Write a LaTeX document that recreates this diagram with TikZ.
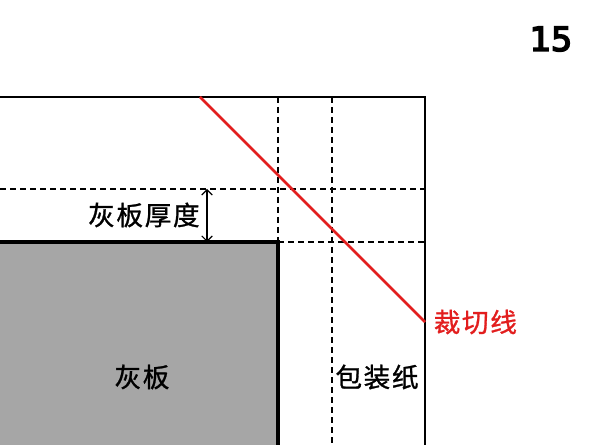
\documentclass[tikz,border=0pt]{standalone}
\usepackage{fontspec}
\setmainfont{Noto Sans CJK SC}[LetterSpace=6, FakeBold=1]
\newfontfamily\numfont{DejaVu Sans}[FakeBold=5]
\usetikzlibrary{arrows.meta,positioning}
\definecolor{cutred}{RGB}{226,30,30}
\definecolor{boardgray}{RGB}{166,166,166}

\begin{document}
\begin{tikzpicture}[
x=0.75pt, y=-0.75pt,
every node/.style={font=\fontsize{20}{24}\selectfont},
paper/.style={line width=1.6pt},
guide/.style={dashed, dash pattern=on 4.5pt off 3pt, line width=1.1pt},
board/.style={line width=3.2pt},
cutline/.style={cutred, line width=1.9pt},
dim/.style={{Straight Barb[length=4pt]}-{Straight Barb[length=4pt]}, line width=0.8pt}
]
\useasboundingbox (0,0) rectangle (593,445);

% corner points
\coordinate (tl) at (0,97);
\coordinate (tr) at (425,97);
\coordinate (br) at (425,445);
\coordinate (bt) at (0,242);
\coordinate (bc) at (278,242);
\coordinate (bb) at (278,445);

% grey board
\fill[boardgray] (bt) rectangle (bb);
\draw[board] (bt) -- (bc) -- (bb);

% wrapping paper outline
\draw[paper] (tl) -- (tr) -- (br);

% fold guides
\coordinate (g1l) at (0,189);
\coordinate (g1r) at (425,189);
\coordinate (g2r) at (425,242);
\coordinate (v1t) at (278,97);
\coordinate (v2t) at (332,97);
\coordinate (v2b) at (332,445);
\draw[guide] (g1l) -- (g1r);
\draw[guide] (bc) -- (g2r);
\draw[guide] (v1t) -- (bc);
\draw[guide] (v2t) -- (v2b);

% board thickness
\coordinate (d1) at (207,189);
\coordinate (d2) at (207,242);
\draw[dim] (d1) -- (d2);
\node[left=2pt of d1, yshift=-19.5pt, anchor=east] (thick) {灰板厚度};

% cut line
\coordinate (c1) at (200,97);
\coordinate (c2) at (425,322);
\draw[cutline] (c1) -- (c2);
\node[right=3pt of c2, text=cutred] (cutlabel) {裁切线};

% labels
\node (boardlabel) at (142,377) {灰板};
\node (paperlabel) at (377,377) {包装纸};
\node[font=\numfont\fontsize{25}{28}\selectfont] (pagenum) at (551,39) {15};

\end{tikzpicture}
\end{document}
